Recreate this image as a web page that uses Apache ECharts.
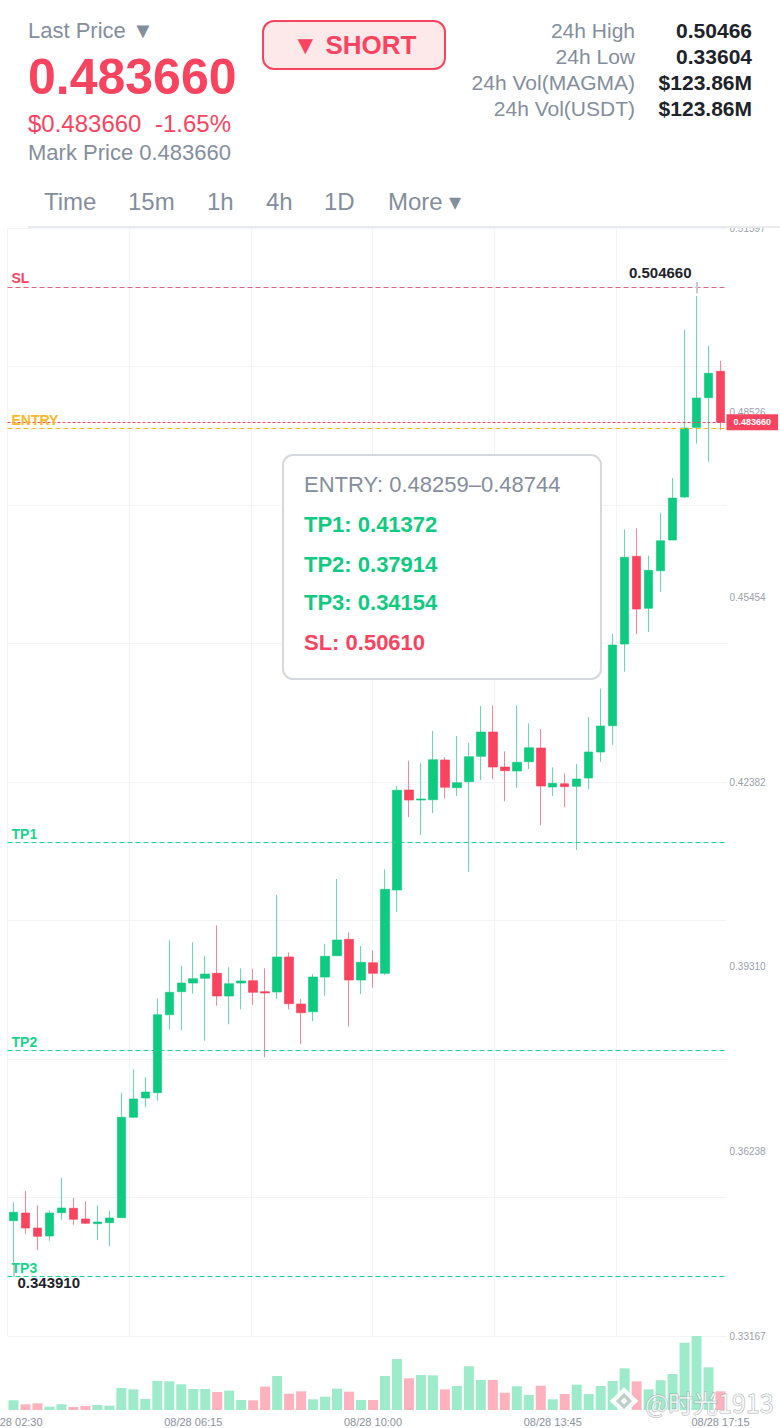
<!DOCTYPE html>
<html><head><meta charset="utf-8">
<style>html,body{margin:0;padding:0;background:#fff}#c{width:780px;height:1428px}</style>
<script src="https://cdn.jsdelivr.net/npm/echarts@6/dist/echarts.min.js"></script>
</head><body><div id="c"></div>
<script>
const categories = [
"08/28 02:30","08/28 02:45",
"08/28 03:00","08/28 03:15","08/28 03:30","08/28 03:45",
"08/28 04:00","08/28 04:15","08/28 04:30","08/28 04:45",
"08/28 05:00","08/28 05:15","08/28 05:30","08/28 05:45",
"08/28 06:00","08/28 06:15","08/28 06:30","08/28 06:45",
"08/28 07:00","08/28 07:15","08/28 07:30","08/28 07:45",
"08/28 08:00","08/28 08:15","08/28 08:30","08/28 08:45",
"08/28 09:00","08/28 09:15","08/28 09:30","08/28 09:45",
"08/28 10:00","08/28 10:15","08/28 10:30","08/28 10:45",
"08/28 11:00","08/28 11:15","08/28 11:30","08/28 11:45",
"08/28 12:00","08/28 12:15","08/28 12:30","08/28 12:45",
"08/28 13:00","08/28 13:15","08/28 13:30","08/28 13:45",
"08/28 14:00","08/28 14:15","08/28 14:30","08/28 14:45",
"08/28 15:00","08/28 15:15","08/28 15:30","08/28 15:45",
"08/28 16:00","08/28 16:15","08/28 16:30","08/28 16:45",
"08/28 17:00","08/28 17:15"];
const opens = [0.35085,0.35213,0.34963,0.34830,0.35218,0.35291,0.35113,0.35035,0.35052,0.35135,
0.36805,0.37126,0.37214,0.38511,0.38894,0.39038,0.39117,0.39200,0.38822,0.39038,
0.39077,0.38894,0.38889,0.39471,0.38689,0.38561,0.39138,0.39492,0.39765,0.39088,
0.39376,0.39200,0.40585,0.42249,0.42082,0.42087,0.42748,0.42287,0.42387,0.42809,
0.43213,0.42631,0.42565,0.42719,0.42947,0.42299,0.42353,0.42310,0.42448,0.42881,
0.43318,0.44677,0.46136,0.45271,0.45896,0.46407,0.47122,0.48281,0.48774,0.49213];
const closes = [0.35225,0.34963,0.34825,0.35213,0.35296,0.35108,0.35042,0.35063,0.35130,0.36805,
0.37109,0.37225,0.38511,0.38884,0.39038,0.39110,0.39188,0.38822,0.39027,0.39072,
0.38884,0.38872,0.39471,0.38694,0.38544,0.39138,0.39483,0.39754,0.39088,0.39383,
0.39200,0.40597,0.42244,0.42082,0.42099,0.42753,0.42294,0.42370,0.42803,0.43213,
0.42631,0.42570,0.42709,0.42952,0.42315,0.42360,0.42304,0.42432,0.42881,0.43313,
0.44660,0.46119,0.45259,0.45903,0.46395,0.47105,0.48270,0.48769,0.49179,0.48366];
const lows = [0.34391,0.34864,0.34597,0.34752,0.35101,0.35018,0.35030,0.34764,0.34664,0.35130,
0.36793,0.36971,0.37081,0.38268,0.38252,0.38861,0.38079,0.38661,0.38351,0.38601,
0.38677,0.37803,0.38772,0.38601,0.38024,0.38406,0.38827,0.39492,0.38312,0.38855,
0.38960,0.39172,0.40219,0.41800,0.41500,0.41866,0.42104,0.42149,0.40890,0.42415,
0.42427,0.42061,0.42282,0.42598,0.41661,0.42149,0.41961,0.41251,0.42265,0.42719,
0.43002,0.44216,0.44843,0.44877,0.45547,0.46407,0.47105,0.48009,0.47709,0.48236];
const highs = [0.35391,0.35579,0.35341,0.35258,0.35795,0.35462,0.35407,0.35341,0.35246,0.37214,
0.37603,0.37475,0.38784,0.39749,0.39326,0.39715,0.39488,0.39998,0.39300,0.39283,
0.39276,0.39283,0.40502,0.39549,0.38772,0.39188,0.39692,0.40768,0.39882,0.39654,
0.39582,0.40930,0.42315,0.42736,0.42693,0.43230,0.42793,0.43147,0.43030,0.43646,
0.43657,0.42892,0.43657,0.43358,0.43263,0.42626,0.42526,0.42681,0.43463,0.43934,
0.44848,0.46585,0.46601,0.46146,0.46861,0.47438,0.49900,0.50466,0.49634,0.49389];
const volumes = [29,17,20,10,17,9,12,15,13,66,62,33,87,86,77,63,63,54,58,30,
29,70,102,49,56,32,40,64,55,30,30,102,153,95,105,104,62,72,131,90,
90,52,71,45,73,32,48,76,48,72,87,125,86,62,89,108,202,222,128,56];
const xTickIndex = [0,15,30,45,59];
const priceTickLabels = ["0.33167","0.36238","0.39310","0.42382","0.45454","0.48526","0.51597"];
const priceMin = 0.33167, priceMax = 0.51597;
const levelSL = 0.50610, levelLast = 0.48366, levelEntry = 0.48259, levelTP1 = 0.41372, levelTP2 = 0.37914, levelTP3 = 0.34154;
const highLeader = [0.50698, 0.50510], lowLeader = [0.34391, 0.34154];

const UP='#0ecb81', DOWN='#f9445f', GREY='#848e9c', DARK='#1e2329', FONT='"Liberation Sans",Arial,sans-serif';
const t=(x,y,text,o={})=>({type:'text',x,y:y-1,z:o.z||50,style:{text,fill:o.fill||GREY,font:(o.w||'normal')+' '+(o.s||22)+'px '+(o.f||FONT),textAlign:o.a||'left',textVerticalAlign:'middle',verticalAlign:'middle',
 stroke:o.stroke,lineWidth:o.lw,shadowBlur:o.sb,shadowColor:o.sc,opacity:o.op}});
const hline=(v,color,name,labelColor)=>({yAxis:v,lineStyle:{color,type:[5,3],width:1},label:{show:!!name,formatter:name||'',position:'insideStartTop',distance:[4,2],color:labelColor||color,fontSize:14,fontWeight:'bold',fontFamily:FONT}});
const lg=(cx,cy,r,c)=>({type:'polygon',z:60,shape:{points:[[cx,cy-r],[cx+r,cy],[cx,cy+r],[cx-r,cy]]},style:{fill:c}});

const candles = opens.map((o,i)=>[o,closes[i],lows[i],highs[i]]);
const volumeData = volumes.map((v,i)=>({value:v,itemStyle:{color:closes[i]>=opens[i]?'#9eebcb':'#fdb2bd'}}));

const chart = echarts.init(document.getElementById('c'),null,{renderer:'svg',width:780,height:1428});
chart.setOption({
 animation:false,backgroundColor:'#fff',textStyle:{fontFamily:FONT},
 grid:[{left:7.5,top:228,width:719,height:1108,outerBoundsMode:'none'},{left:7.5,top:1336,width:719,height:74,outerBoundsMode:'none'}],
 xAxis:[
  {type:'category',gridIndex:0,data:categories,show:false,boundaryGap:true},
  {type:'value',gridIndex:0,min:0,max:5.908,interval:1,axisLine:{show:false},axisTick:{show:false},axisLabel:{show:false},splitLine:{show:true,showMaxLine:false,lineStyle:{color:'#f3f4f6',width:1}}},
  {type:'category',gridIndex:1,data:categories,boundaryGap:true,axisLine:{show:false},axisTick:{show:false},splitLine:{show:false},
   axisLabel:{show:true,interval:(i)=>xTickIndex.includes(i),showMinLabel:true,showMaxLabel:true,hideOverlap:false,margin:6,fontSize:11,color:'#8a919e',fontFamily:FONT}}
 ],
 yAxis:[
  {type:'value',gridIndex:0,min:priceMin,max:priceMax,show:false,splitLine:{show:false}},
  {type:'value',gridIndex:0,min:0,max:6,interval:1,position:'right',axisLine:{show:false},axisTick:{show:false},splitLine:{show:false},
   axisLabel:{show:true,inside:false,margin:3,fontSize:10,color:'#9aa0aa',fontFamily:FONT,formatter:(v)=>priceTickLabels[Math.round(v)]}},
  {type:'value',gridIndex:0,min:0,max:8,interval:1,position:'left',axisLine:{show:false},axisTick:{show:false},axisLabel:{show:false},splitLine:{show:true,lineStyle:{color:'#f3f4f6',width:1}}},
  {type:'value',gridIndex:1,min:0,max:222,show:false,splitLine:{show:false}}
 ],
 series:[
  {type:'bar',xAxisIndex:2,yAxisIndex:3,data:volumeData,barWidth:10,silent:true},
  {type:'candlestick',xAxisIndex:0,yAxisIndex:0,data:candles,barWidth:9,silent:true,z:5,
   itemStyle:{color:UP,color0:DOWN,borderColor:'rgba(14,203,129,0.65)',borderColor0:'rgba(249,68,95,0.65)',borderWidth:1},
   markLine:{silent:true,symbol:'none',animation:false,precision:6,z:6,data:[
    hline(levelSL,'#e2647c','SL',DOWN),
    hline(levelTP1,'#18d48c','TP1'),
    hline(levelTP2,'#18d48c','TP2'),
    hline(levelTP3,'#18d48c','TP3'),
    hline(levelEntry,'#fbb728','ENTRY'),
    {yAxis:levelLast,lineStyle:{color:'#f9445f',type:[3,2],width:1},label:{show:true,position:'end',distance:0,formatter:levelLast.toFixed(6),color:'#fff',backgroundColor:'#f9445f',padding:[4,7,3,7],fontSize:9,fontWeight:'bold',fontFamily:FONT}},
    [{coord:[categories[57],highLeader[0]],lineStyle:{color:'#c8cbd0',width:2,type:'solid'},label:{show:false}},{coord:[categories[57],highLeader[1]]}],
    [{coord:[categories[0],lowLeader[0]],lineStyle:{color:'#c8cbd0',width:2,type:'solid'},label:{show:false}},{coord:[categories[0],lowLeader[1]]}]
   ]},
   markPoint:{silent:true,symbol:'circle',symbolSize:0,animation:false,data:[
    {coord:[categories[57],highs[57]],label:{show:true,formatter:highs[57].toFixed(6),position:'left',offset:[0,-23],color:DARK,fontSize:15,fontWeight:'bold',fontFamily:FONT}},
    {coord:[categories[0],lows[0]],label:{show:true,formatter:lows[0].toFixed(6),position:'right',offset:[-1,20],color:DARK,fontSize:15,fontWeight:'bold',fontFamily:FONT}}
   ]}
  }
 ],
 graphic:{elements:[
  {type:'rect',z:40,shape:{x:0,y:0,width:780,height:226.5},style:{fill:'#fff'}},
  {type:'rect',z:41,shape:{x:28,y:226,width:752,height:2},style:{fill:'#e9ebee'}},
  t(28,31,'Last Price ▼'),
  t(28,78,'0.483660',{s:50,w:'bold',fill:DOWN}),
  t(28,124,'$0.483660',{s:24,fill:DOWN}),
  t(155,124,'-1.65%',{s:24,fill:DOWN}),
  t(28,153,'Mark Price 0.483660'),
  {type:'rect',z:45,shape:{x:263,y:21,width:182,height:48,r:11},style:{fill:'#fde8ea',stroke:DOWN,lineWidth:2}},
  t(354.5,46,'▼ SHORT',{s:26,w:'bold',fill:DOWN,a:'center'}),
  t(635,31,'24h High',{s:21,a:'right'}),t(635,57,'24h Low',{s:21,a:'right'}),t(635,83,'24h Vol(MAGMA)',{s:21,a:'right'}),t(635,109,'24h Vol(USDT)',{s:21,a:'right'}),
  t(752,31,'0.50466',{s:21,w:'bold',fill:DARK,a:'right'}),t(752,57,'0.33604',{s:21,w:'bold',fill:DARK,a:'right'}),t(752,83,'$123.86M',{s:21,w:'bold',fill:DARK,a:'right'}),t(752,109,'$123.86M',{s:21,w:'bold',fill:DARK,a:'right'}),
  t(44,202,'Time',{s:24}),t(128,202,'15m',{s:24}),t(207,202,'1h',{s:24}),t(266,202,'4h',{s:24}),t(324,202,'1D',{s:24}),t(388,202,'More ▾',{s:24}),
  {type:'rect',z:45,shape:{x:283,y:455,width:318,height:224,r:10},style:{fill:'#fff',stroke:'#d5d8dd',lineWidth:2}},
  t(304,485,'ENTRY: 0.48259–0.48744'),
  t(304,525,'TP1: 0.41372',{w:'bold',fill:UP}),
  t(304,565,'TP2: 0.37914',{w:'bold',fill:UP}),
  t(304,603,'TP3: 0.34154',{w:'bold',fill:UP}),
  t(304,643,'SL: 0.50610',{w:'bold',fill:DOWN}),
  lg(624,1401,14,'rgba(255,255,255,0.88)'),
  lg(624,1401,8,'rgba(150,175,165,0.6)'),
  lg(624,1401,3.5,'#fff'),
  lg(613,1401,3,'#fff'),
  lg(635,1401,3,'#fff'),
  t(645,1403,'@',{s:25,f:'"Noto Sans CJK SC",sans-serif',fill:'rgba(255,255,255,0.72)',sb:3,sc:'rgba(60,60,60,0.6)',stroke:'rgba(150,155,160,0.75)',lw:1}),
  t(668,1403,'时光1913',{s:25,f:'"Noto Sans CJK SC",sans-serif',fill:'rgba(255,255,255,0.72)',sb:3,sc:'rgba(60,60,60,0.6)',stroke:'rgba(150,155,160,0.75)',lw:1})
 ]}
});
</script></body></html>
